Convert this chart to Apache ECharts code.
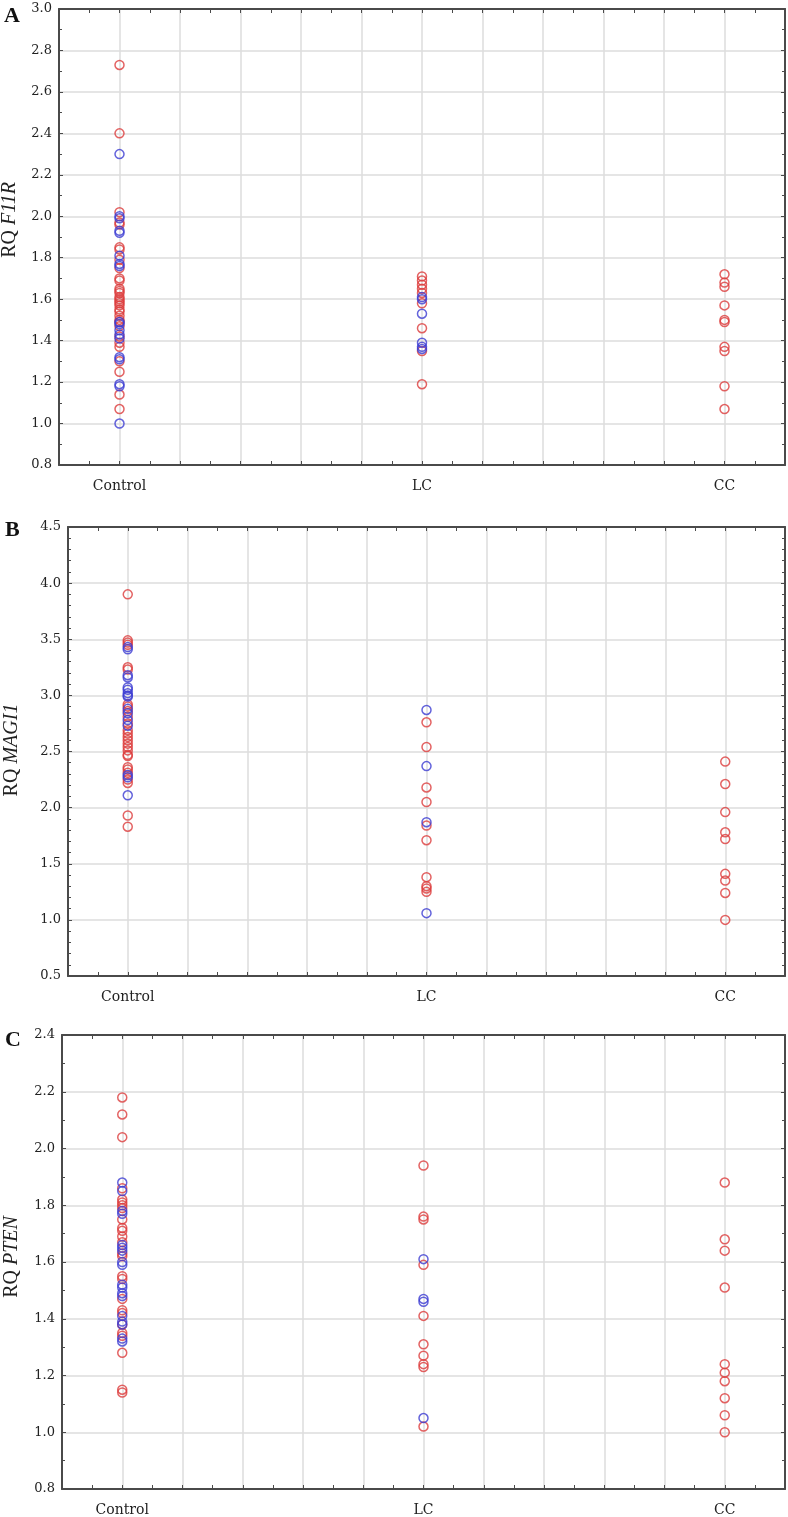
<!DOCTYPE html>
<html><head><meta charset="utf-8">
<script src="https://cdn.jsdelivr.net/npm/echarts@6/dist/echarts.min.js"></script>
<style>html,body{margin:0;padding:0;background:#fff}#c{width:788px;height:1517px}</style>
</head><body><div id="c"></div>
<script>
// categories and their positions on the x scale
const groups = ['Control', 'LC', 'CC'];
const groupPos = [1, 6, 11];

// Panel A: RQ F11R
const A_control_red = [2.73, 2.40, 2.02, 1.97, 1.96, 1.85, 1.84, 1.79, 1.75, 1.70, 1.69, 1.65, 1.64, 1.63, 1.61, 1.60, 1.59, 1.58, 1.57, 1.55, 1.54, 1.52, 1.50, 1.49, 1.47, 1.42, 1.39, 1.37, 1.30, 1.25, 1.14, 1.07];
const A_control_blue = [2.30, 2.00, 1.99, 1.93, 1.92, 1.81, 1.77, 1.76, 1.49, 1.48, 1.45, 1.43, 1.41, 1.32, 1.31, 1.19, 1.18, 1.00];
const A_lc_red = [1.71, 1.69, 1.67, 1.65, 1.63, 1.58, 1.46, 1.35, 1.19];
const A_lc_blue = [1.61, 1.60, 1.53, 1.39, 1.37, 1.36];
const A_cc_red = [1.72, 1.68, 1.66, 1.57, 1.50, 1.49, 1.37, 1.35, 1.18, 1.07];
const A_cc_blue = [];

// Panel B: RQ MAGI1
const B_control_red = [3.90, 3.49, 3.47, 3.45, 3.25, 3.23, 2.92, 2.90, 2.86, 2.81, 2.75, 2.69, 2.66, 2.63, 2.60, 2.57, 2.54, 2.51, 2.47, 2.46, 2.36, 2.34, 2.31, 2.25, 2.22, 1.93, 1.83];
const B_control_blue = [3.43, 3.41, 3.18, 3.16, 3.07, 3.05, 3.02, 3.00, 2.99, 2.88, 2.84, 2.78, 2.73, 2.29, 2.27, 2.11];
const B_lc_red = [2.76, 2.54, 2.18, 2.05, 1.84, 1.71, 1.38, 1.30, 1.28, 1.25];
const B_lc_blue = [2.87, 2.37, 1.87, 1.06];
const B_cc_red = [2.41, 2.21, 1.96, 1.78, 1.72, 1.41, 1.35, 1.24, 1.00];
const B_cc_blue = [];

// Panel C: RQ PTEN
const C_control_red = [2.18, 2.12, 2.04, 1.86, 1.82, 1.81, 1.80, 1.79, 1.75, 1.72, 1.71, 1.69, 1.67, 1.63, 1.62, 1.55, 1.54, 1.47, 1.43, 1.42, 1.38, 1.35, 1.34, 1.28, 1.15, 1.14];
const C_control_blue = [1.88, 1.85, 1.78, 1.77, 1.66, 1.65, 1.64, 1.60, 1.59, 1.52, 1.51, 1.49, 1.48, 1.41, 1.39, 1.38, 1.33, 1.32];
const C_lc_red = [1.94, 1.76, 1.75, 1.59, 1.41, 1.31, 1.27, 1.24, 1.23, 1.02];
const C_lc_blue = [1.61, 1.47, 1.46, 1.05];
const C_cc_red = [1.88, 1.68, 1.64, 1.51, 1.24, 1.21, 1.18, 1.12, 1.06, 1.00];
const C_cc_blue = [];

// y-axis scales
const A_y = {min: 0.8, max: 3.0, interval: 0.2, minor: 2};
const B_y = {min: 0.5, max: 4.5, interval: 0.5, minor: 5};
const C_y = {min: 0.8, max: 2.4, interval: 0.2, minor: 2};

const RED = '#dc3c3c', BLUE = '#3c3cd2';
const AXIS = '#4a4a4a', GRIDC = '#dcdcdc';

const panels = [
  {grid: {left: 59, right: 2, top: 9, bottom: 1052}, y: A_y,
   red: [A_control_red, A_lc_red, A_cc_red], blue: [A_control_blue, A_lc_blue, A_cc_blue]},
  {grid: {left: 68, right: 2, top: 527, bottom: 541}, y: B_y,
   red: [B_control_red, B_lc_red, B_cc_red], blue: [B_control_blue, B_lc_blue, B_cc_blue]},
  {grid: {left: 62, right: 2, top: 1035, bottom: 28}, y: C_y,
   red: [C_control_red, C_lc_red, C_cc_red], blue: [C_control_blue, C_lc_blue, C_cc_blue]}
];

function pts(lists) {
  const out = [];
  lists.forEach((arr, gi) => arr.forEach(v => out.push([groupPos[gi], v])));
  return out;
}

const grid = [], xAxis = [], yAxis = [], series = [];
panels.forEach((p, i) => {
  grid.push(p.grid);
  const common = {
    gridIndex: i, type: 'value', min: 0, max: 12, interval: 1,
    axisLine: {show: true, onZero: false, lineStyle: {color: AXIS, width: 2}},
    axisTick: {show: true, inside: true, length: 4, lineStyle: {color: AXIS, width: 1}},
    minorTick: {show: true, splitNumber: 2, length: 4, lineStyle: {color: AXIS, width: 1}}
  };
  xAxis.push(Object.assign({}, common, {
    position: 'bottom',
    splitLine: {show: true, lineStyle: {color: GRIDC, width: 1.5}},
    axisLabel: {
      show: true, margin: 14, color: '#222', fontFamily: 'DejaVu Serif', fontSize: 14,
      formatter: v => { const k = groupPos.indexOf(Math.round(v)); return (k >= 0 && Math.abs(v - groupPos[k]) < 1e-6) ? groups[k] : ''; }
    }
  }));
  xAxis.push(Object.assign({}, common, {
    position: 'top', splitLine: {show: false}, axisLabel: {show: false}
  }));
  const ycommon = {
    gridIndex: i, type: 'value', min: p.y.min, max: p.y.max, interval: p.y.interval,
    axisLine: {show: true, onZero: false, lineStyle: {color: AXIS, width: 2}},
    axisTick: {show: true, inside: true, length: 4, lineStyle: {color: AXIS, width: 1}},
    minorTick: {show: true, splitNumber: p.y.minor, length: 3, lineStyle: {color: AXIS, width: 1}}
  };
  yAxis.push(Object.assign({}, ycommon, {
    position: 'left',
    splitLine: {show: true, lineStyle: {color: GRIDC, width: 1.5}},
    axisLabel: {show: true, margin: 7, color: '#222', fontFamily: 'DejaVu Serif', fontSize: 13,
      formatter: v => (+v).toFixed(1)}
  }));
  yAxis.push(Object.assign({}, ycommon, {
    position: 'right', splitLine: {show: false}, axisLabel: {show: false}
  }));
  const mk = (data, color) => ({
    type: 'scatter', xAxisIndex: 2 * i, yAxisIndex: 2 * i, data: data,
    symbol: 'circle', symbolSize: 9, silent: true,
    itemStyle: {color: 'rgba(0,0,0,0)', borderColor: color, borderWidth: 1.5}
  });
  series.push(mk(pts(p.red), RED));
  series.push(mk(pts(p.blue), BLUE));
});

function yname(x, y, gene) {
  return {
    type: 'text', x: x, y: y, rotation: Math.PI / 2, silent: true,
    style: {
      text: '{a|RQ }{b|' + gene + '}', align: 'center', verticalAlign: 'middle',
      rich: {
        a: {fontFamily: 'Liberation Serif', fontSize: 20, fill: '#222'},
        b: {fontFamily: 'Liberation Serif', fontSize: 20, fontStyle: 'italic', fill: '#222'}
      }
    }
  };
}
function letter(x, y, t) {
  return {type: 'text', x: x, y: y, silent: true,
    style: {text: t, fontFamily: 'Liberation Serif', fontWeight: 'bold', fontSize: 22, fill: '#111', align: 'left', verticalAlign: 'top'}};
}

const chart = echarts.init(document.getElementById('c'), null, {renderer: 'canvas'});
chart.setOption({
  animation: false,
  backgroundColor: '#fff',
  grid: grid, xAxis: xAxis, yAxis: yAxis, series: series,
  graphic: [
    letter(4, 5, 'A'), letter(5, 519, 'B'), letter(5, 1029, 'C'),
    yname(10, 220, 'F11R'), yname(12, 750, 'MAGI1'), yname(12, 1257, 'PTEN')
  ]
});
</script></body></html>
